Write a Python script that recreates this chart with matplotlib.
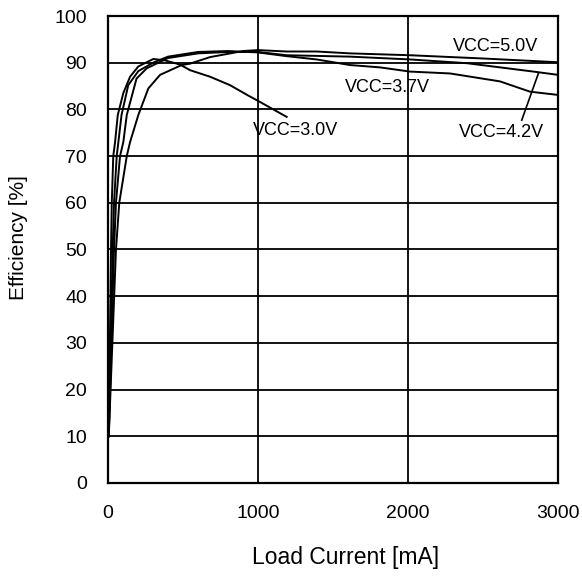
import matplotlib
matplotlib.use("Agg")
import matplotlib.pyplot as plt

# efficiency curves (load current in mA, efficiency in %)
i_30 = [5, 20, 25, 35, 47, 65, 102, 147, 202, 302, 380, 480, 547, 680, 813, 933, 1013, 1191]
e_30 = [10, 50, 60, 70, 73, 78.8, 83.5, 87, 89.2, 90.8, 90.5, 89.6, 88.4, 87, 85.2, 83, 81.6, 78.4]

i_37 = [5, 31, 40, 58, 69, 90, 135, 202, 300, 400, 600, 800, 1000, 1191, 1391, 1613, 1813, 2013, 2280, 2613, 2813, 3000]
e_37 = [10, 50, 60, 70, 73, 78.8, 85.2, 88.2, 90, 91.3, 92.3, 92.5, 92.2, 91.4, 90.7, 89.5, 89.0, 88.1, 87.7, 86.0, 83.8, 83.1]

i_42 = [5, 40, 53, 80, 102, 125, 190, 258, 400, 600, 800, 1000, 1191, 1613, 2013, 2391, 2836, 3000]
e_42 = [10, 50, 60, 70, 73, 78.8, 86.6, 88.8, 91, 92, 92.3, 92.3, 91.6, 91.3, 90.7, 89.9, 88.1, 87.4]

i_50 = [5, 53, 75, 125, 147, 202, 269, 347, 491, 547, 680, 900, 1000, 1191, 1391, 1613, 2013, 2502, 3000]
e_50 = [10, 50, 60, 70, 73, 78.8, 84.5, 87.4, 89.5, 89.8, 91.2, 92.5, 92.7, 92.4, 92.4, 92.0, 91.6, 90.9, 90.1]

x_ticks = [0, 1000, 2000, 3000]
y_ticks = list(range(0, 101, 10))

plt.rcParams['font.family'] = ['Liberation Sans', 'DejaVu Sans']

fig = plt.figure(figsize=(5.82, 5.76), dpi=100)
ax = fig.add_axes([0.1856, 0.1615, 0.7732, 0.8107])

for xs, ys in [(i_30, e_30), (i_37, e_37), (i_42, e_42), (i_50, e_50)]:
    ax.plot(xs, ys, color='black', linewidth=1.4)

ax.set_xlim(0, 3000)
ax.set_ylim(0, 100)
ax.set_xticks(x_ticks)
ax.set_yticks(y_ticks)
ax.grid(True, color='black', linewidth=1.3)
ax.set_axisbelow(True)
for s in ax.spines.values():
    s.set_linewidth(1.6)
ax.tick_params(length=0, labelsize=14)
ax.tick_params(axis='x', pad=16)
ax.tick_params(axis='y', pad=15)

ax.set_xlabel('Load Current [mA]', fontsize=16.5)
ax.set_ylabel('Efficiency [%]', fontsize=15)
ax.xaxis.label.set_va('center')
ax.yaxis.label.set_va('center')
ax.xaxis.set_label_coords(0.528, -0.16)
ax.yaxis.set_label_coords(-0.2, 0.525)

# curve labels
ax.text(2583, 93.5, 'VCC=5.0V', fontsize=13, ha='center', va='center')
ax.text(1863, 84.7, 'VCC=3.7V', fontsize=13, ha='center', va='center')
ax.text(1253, 75.4, 'VCC=3.0V', fontsize=13, ha='center', va='center')
ax.text(2620, 75.1, 'VCC=4.2V', fontsize=13, ha='center', va='center')
ax.plot([2758, 2869], [77.7, 87.7], color='black', linewidth=1.2)

fig.savefig('out.png', dpi=100)
